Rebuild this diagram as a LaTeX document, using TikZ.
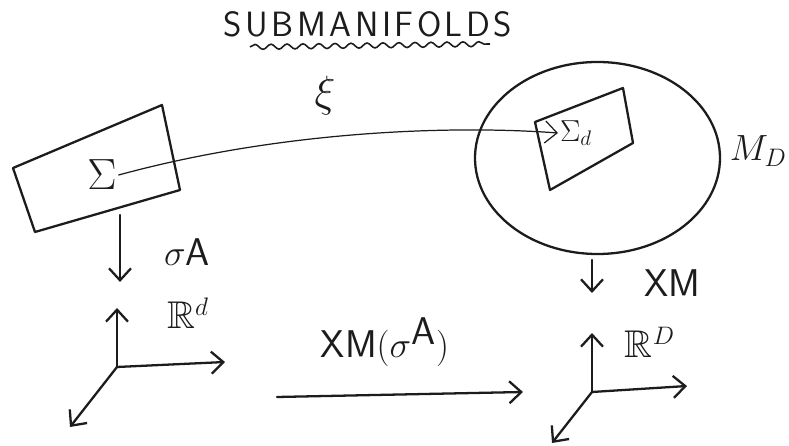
\documentclass[tikz,border=0pt]{standalone}
\usepackage{amssymb}
\usetikzlibrary{arrows.meta,decorations.pathmorphing}
\definecolor{ink}{HTML}{1C1C1C}
\tikzset{
  >={Straight Barb[length=2.4mm,width=4.4mm]},
  pen/.style={draw=ink,line width=1.3pt,line cap=round,line join=round},
  sheet/.style={pen},
  maparrow/.style={->,pen},
  thinmap/.style={->,draw=ink,line width=.7pt,line cap=round},
  axisarrow/.style={->,pen},
  wavy/.style={draw=ink,line width=.9pt,decorate,decoration={snake,amplitude=.05cm,segment length=.32cm}},
  bigsym/.style={text=ink,inner sep=1pt,font=\fontsize{24}{28}\selectfont},
  maplabel/.style={text=ink,inner sep=1pt,font=\fontsize{22}{26}\selectfont}
}

\begin{document}
\begin{tikzpicture}[x=1cm,y=1cm]
  \useasboundingbox (0,0) rectangle (15.78,8.92);

  % Heading, underlined with a wavy stroke.
  \node[text=ink,font=\sffamily\fontsize{20}{24}\selectfont] (title) at (7.36,8.44) {S\hspace{2pt}U\hspace{2pt}B\hspace{2pt}M\hspace{2pt}A\hspace{2pt}N\hspace{2pt}I\hspace{2pt}F\hspace{2pt}O\hspace{2pt}L\hspace{2pt}D\hspace{2pt}S};
  \draw[wavy] (5.0,7.98) -- (9.8,8.04);

  % Source sheet on the left.
  \draw[sheet] (0.26,5.56) -- (3.24,6.82) -- (3.60,5.12) -- (0.70,4.28) -- cycle;
  \node[bigsym] (sigma) at (2.04,5.42) {$\Sigma$};

  % Target manifold with the embedded sheet.
  \draw[pen] (11.95,5.76) ellipse [x radius=2.45,y radius=1.92];
  \draw[sheet] (10.70,6.48) -- (12.46,7.16) -- (12.66,6.06) -- (11.00,5.12) -- cycle;
  \node[bigsym,font=\fontsize{18}{22}\selectfont] (sigmad) at (11.52,6.26) {$\Sigma_d$};
  \node[bigsym,anchor=east,inner sep=0pt,font=\fontsize{21}{24}\selectfont] (md) at (15.74,5.90) {$M_D$};

  % The embedding map.
  \draw[thinmap] (sigma.east) .. controls (5.6,6.3) and (9.0,6.42) .. (sigmad.west);
  \node[bigsym] (xi) at (6.50,7.00) {$\xi$};

  % Vertical maps down to the coordinate frames.
  \coordinate (leftdrop) at (2.40,4.62);
  \coordinate (leftland) at (2.40,3.28);
  \coordinate (rightdrop) at (11.84,3.72);
  \coordinate (rightland) at (11.84,3.06);
  \draw[maparrow] (leftdrop) -- (leftland);
  \draw[maparrow] (rightdrop) -- (rightland);
  \node[maplabel] (sigmaA) at (3.74,3.88) {$\sigma$\textsf{A}};
  \node[maplabel] (xm) at (13.44,3.26) {\textsf{XM}};

  % Frame of R^d.
  \coordinate (leftorigin) at (2.34,1.58);
  \coordinate (leftup) at (2.34,2.76);
  \coordinate (leftright) at (4.50,1.68);
  \coordinate (leftdown) at (1.40,0.38);
  \draw[axisarrow] (leftorigin) -- (leftup);
  \draw[axisarrow] (leftorigin) -- (leftright);
  \draw[axisarrow] (leftorigin) -- (leftdown);
  \node[maplabel] (rd) at (3.76,2.66) {$\mathbb{R}^d$};

  % Frame of R^D.
  \coordinate (rightorigin) at (11.84,1.08);
  \coordinate (rightup) at (11.84,2.26);
  \coordinate (rightright) at (13.74,1.20);
  \coordinate (rightdown) at (11.04,0.06);
  \draw[axisarrow] (rightorigin) -- (rightup);
  \draw[axisarrow] (rightorigin) -- (rightright);
  \draw[axisarrow] (rightorigin) -- (rightdown);
  \node[maplabel] (rD) at (13.00,2.08) {$\mathbb{R}^D$};

  % Induced map between the frames.
  \coordinate (midstart) at (5.54,0.98);
  \coordinate (midend) at (10.46,1.08);
  \draw[maparrow] (midstart) -- (midend);
  \node[maplabel] (xmsigma) at (7.70,2.08) {\textsf{XM}$(\sigma^{\textsf{A}})$};
\end{tikzpicture}
\end{document}
